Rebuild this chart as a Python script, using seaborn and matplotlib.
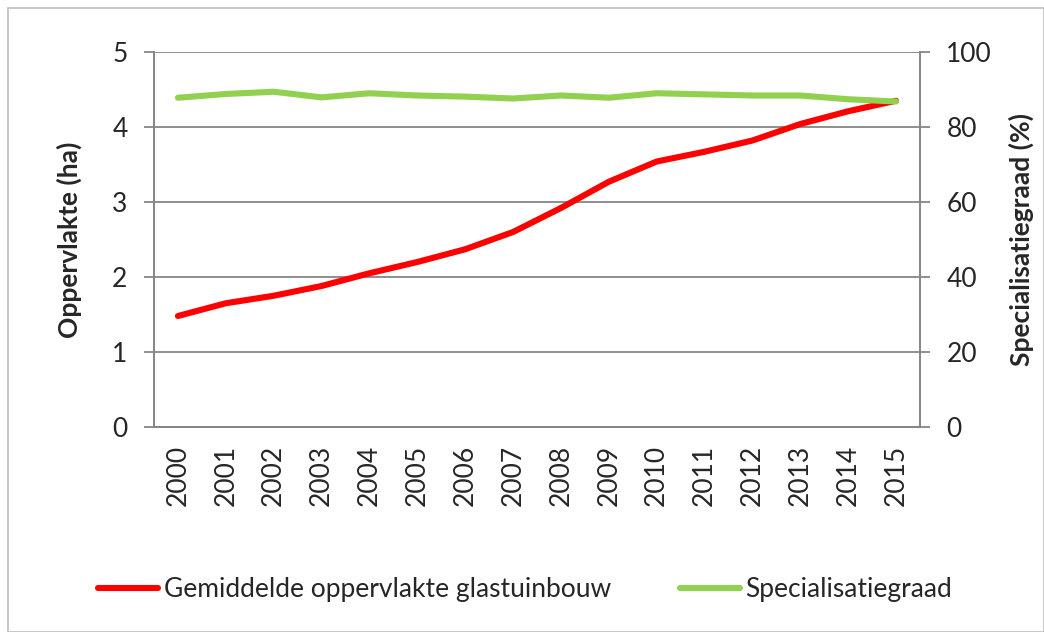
"""Gemiddelde oppervlakte glastuinbouw en specialisatiegraad, 2000-2015."""

import matplotlib

matplotlib.use("Agg")
import matplotlib.pyplot as plt
import numpy as np
import pandas as pd
import seaborn as sns
from matplotlib.lines import Line2D
from matplotlib.patches import Rectangle

years = [str(y) for y in range(2000, 2016)]
oppervlakte = [1.48, 1.65, 1.75, 1.88, 2.05, 2.20, 2.37, 2.60,
               2.92, 3.27, 3.54, 3.67, 3.82, 4.04, 4.21, 4.35]
specialisatie = [87.8, 88.8, 89.4, 87.9, 89.0, 88.4, 88.1, 87.6,
                 88.4, 87.8, 89.0, 88.7, 88.4, 88.4, 87.4, 86.8]

label_opp = "Gemiddelde oppervlakte glastuinbouw"
label_spec = "Specialisatiegraad"

RED = "#ff0000"
GREEN = "#92d050"
GREY = "#868686"

sns.set_style("white")
plt.rcParams["font.family"] = ["Lato", "DejaVu Sans"]
plt.rcParams["font.size"] = 19

df = pd.DataFrame({"year": years, "opp": oppervlakte, "spec": specialisatie})
df["pos"] = np.arange(len(df))

fig = plt.figure(figsize=(10.44, 6.32), dpi=100)
ax = fig.add_axes([154 / 1044, 1 - 427 / 632, (920 - 154) / 1044, (427 - 52) / 632])
ax2 = ax.twinx()

sns.lineplot(data=df, x="pos", y="opp", ax=ax, color=RED, lw=4.4,
             solid_capstyle="round", legend=False)
sns.lineplot(data=df, x="pos", y="spec", ax=ax2, color=GREEN, lw=4.4,
             solid_capstyle="round", legend=False)

ax.set_xlim(-0.5, len(years) - 0.5)
ax.set_ylim(0, 5)
ax2.set_ylim(0, 100)
ax.set_yticks(range(0, 6))
ax2.set_yticks(range(0, 101, 20))

# category boundaries get the tick marks, centres get the labels
ax.set_xticks(np.arange(-0.5, len(years), 1.0))
ax.set_xticklabels([])
ax.set_xticks(df["pos"], minor=True)
ax.set_xticklabels(years, minor=True, rotation=90)
ax.tick_params(axis="x", which="major", length=7, width=1.3, color=GREY)
ax.tick_params(axis="x", which="minor", length=0, pad=13)
ax.tick_params(axis="y", length=7, width=1.3, color=GREY, pad=12)
ax2.tick_params(axis="y", length=7, width=1.3, color=GREY, pad=12)

ax.grid(axis="y", color=GREY, lw=1.3)
ax.set_axisbelow(True)
for a in (ax, ax2):
    a.spines["top"].set_visible(False)
    for side in ("left", "right", "bottom"):
        a.spines[side].set_color(GREY)
        a.spines[side].set_linewidth(1.3)

ax.set_xlabel("")
ax.set_ylabel("Oppervlakte (ha)", fontweight="bold", labelpad=22)
ax2.set_ylabel("Specialisatiegraad (%)", fontweight="bold", labelpad=12)

handles = [
    Line2D([], [], color=RED, lw=4.4, solid_capstyle="round"),
    Line2D([], [], color=GREEN, lw=4.4, solid_capstyle="round"),
]
fig.legend(handles, [label_opp, label_spec], loc="center",
           bbox_to_anchor=(525 / 1044, 1 - 590 / 632), ncol=2, frameon=False,
           handlelength=2.3, handletextpad=0.2, columnspacing=2.6)

fig.patches.append(Rectangle((8 / 1044, 0), 1 - 8 / 1044, 1 - 8 / 632,
                             transform=fig.transFigure, fill=False,
                             edgecolor="#bfbfbf", lw=1.2))

fig.savefig("out.png", dpi=100)
